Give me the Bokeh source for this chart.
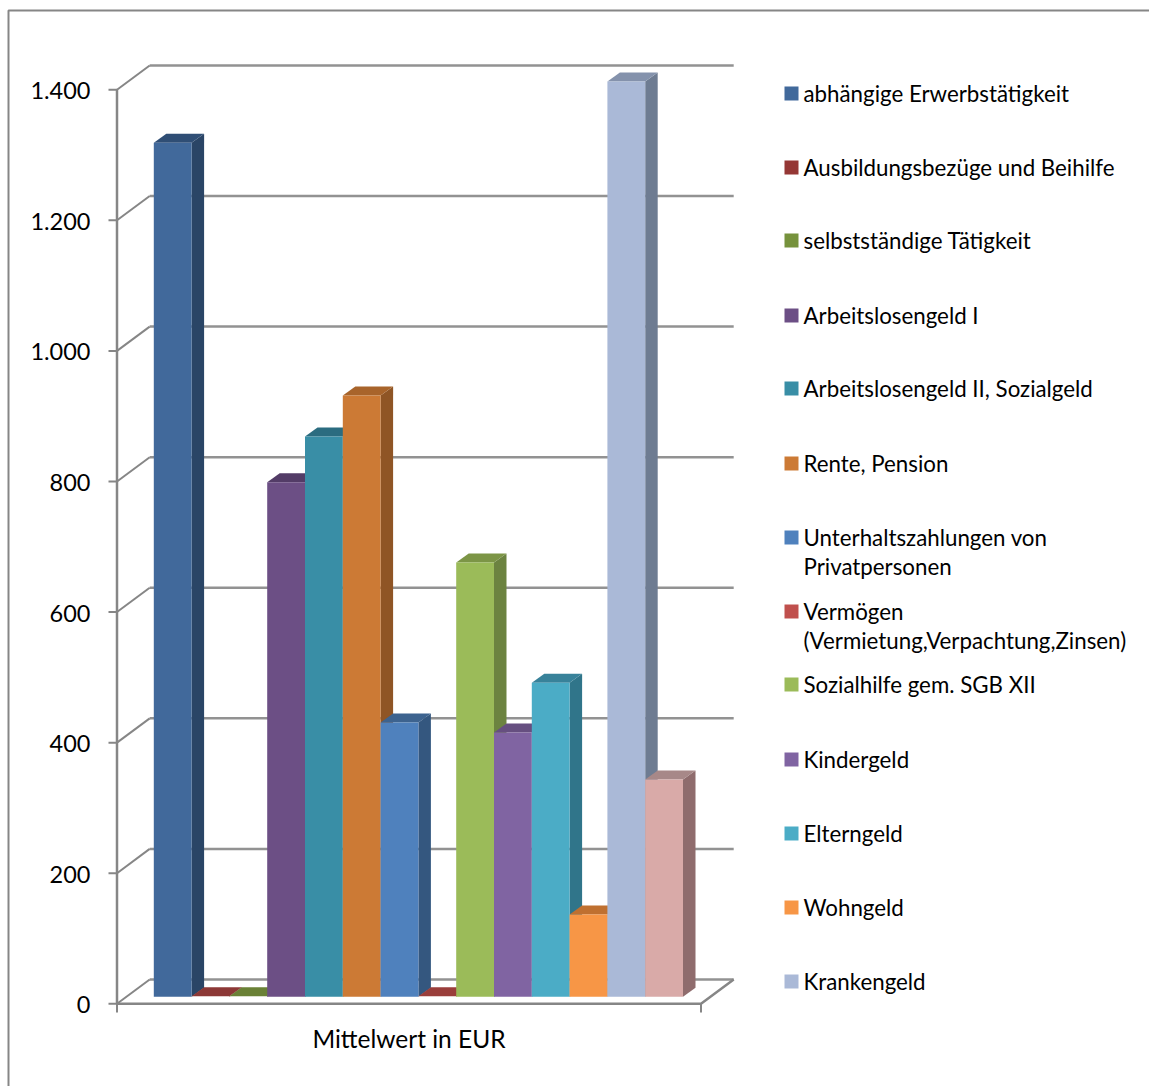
from bokeh.plotting import figure
from bokeh.embed import file_html
from bokeh.resources import INLINE
from bokeh.models import Range1d
from bokeh.core.properties import value

series = ["abhängige Erwerbstätigkeit", "Ausbildungsbezüge und Beihilfe", "selbstständige Tätigkeit",
          "Arbeitslosengeld I", "Arbeitslosengeld II, Sozialgeld", "Rente, Pension",
          "Unterhaltszahlungen von\nPrivatpersonen", "Vermögen\n(Vermietung,Verpachtung,Zinsen)",
          "Sozialhilfe gem. SGB XII", "Kindergeld", "Elterngeld", "Wohngeld", "Krankengeld"]
values = [1308, 1, 1, 788, 858, 921, 420, 1, 665, 405, 481, 126, 1402, 333]
front = ["#41699B", "#953735", "#76923C", "#6C4F85", "#398EA6", "#CC7A35", "#4F81BD", "#C0504D",
         "#9BBB59", "#8064A2", "#4BACC6", "#F79646", "#AAB9D7", "#D9AAA8"]
side = ["#2A4566", "#6F2A28", "#55692C", "#4B3760", "#2A6A7E", "#8F5525", "#34577F", "#8C3A38",
        "#6C8340", "#5A466F", "#30758A", "#B36C31", "#6E7C92", "#8F6C6D"]
top_c = ["#2F4E75", "#8C3836", "#6A8136", "#533C67", "#2B6C80", "#A8642B", "#3D638F", "#9A3E3B",
         "#7C9546", "#664F80", "#38829A", "#BF7030", "#8492AC", "#A78888"]
ticks = [0, 200, 400, 600, 800, 1000, 1200, 1400]
tick_labels = ["0", "200", "400", "600", "800", "1.000", "1.200", "1.400"]
axis_title = "Mittelwert in EUR"

# pixel geometry of the chart box
W, H = 1149, 1086
BAR_W = 37.8
BAR0 = 153.3
Y0 = 1003.3
PPU = 0.6529
def X(px): return (px - BAR0) / BAR_W
def Y(py): return (Y0 - py) / PPU
DX, DY = 12.5 / BAR_W, 9 / PPU              # bar depth
BASE = 7 / PPU                              # bars stand a little behind the front edge
WX0, WX1 = X(116.5), X(700.5)               # floor front edge
BDX, BDY = 32.7 / BAR_W, 24.3 / PPU         # wall depth
GRID = "#868686"
FONT = value("Lato")

p = figure(width=W, height=H, x_range=Range1d(X(0), X(W)), y_range=Range1d(Y(H), Y(0)),
           output_backend="svg", toolbar_location=None, min_border=0)
p.axis.visible = False
p.grid.visible = False
p.outline_line_color = None

# outer frame
p.line([X(8), X(8), X(W)], [Y(H), Y(10), Y(10)], line_color=GRID, line_width=2)

# walls and gridlines
for t in ticks:
    p.line([WX0 + BDX, WX1 + BDX], [t + BDY, t + BDY], line_color=GRID, line_width=2.5, line_alpha=0.9)
    p.line([WX0, WX0 + BDX], [t, t + BDY], line_color=GRID, line_width=2)
    p.line([X(108), WX0], [t, t], line_color=GRID, line_width=2)
p.line([WX0, WX0], [0, ticks[-1]], line_color=GRID, line_width=2.5)
p.line([WX0, WX1, WX1 + BDX], [0, 0, BDY], line_color=GRID, line_width=2.5)
for xx in (WX0, WX1):
    p.line([xx, xx], [0, Y(1012)], line_color=GRID, line_width=2)

# bars
for i, v in enumerate(values):
    b = BASE
    p.patch([i + 1, i + 1 + DX, i + 1 + DX, i + 1], [b, b + DY, b + v + DY, b + v], fill_color=side[i], line_color=None)
    p.patch([i, i + DX, i + 1 + DX, i + 1], [b + v, b + v + DY, b + v + DY, b + v], fill_color=top_c[i], line_color=None)
    if v > 1:
        p.quad(left=i, right=i + 1, bottom=b, top=b + v, fill_color=front[i], line_color=None)

# tick labels and axis title
p.text([X(90)] * len(ticks), [t - 1 / PPU for t in ticks], text=tick_labels, text_font=FONT,
       text_font_size="23.5px", text_align="right", text_baseline="middle", text_color="#000000")
p.text([X(408.5)], [Y(1038)], text=[axis_title], text_font=FONT, text_font_size="24.5px",
       text_align="center", text_baseline="middle", text_color="#000000")

# legend
leg_y = [93, 167, 240, 315, 388, 463, 537, 611, 684, 759, 833, 907, 981]
for i, s in enumerate(series):
    yc = leg_y[i]
    p.quad(left=X(784), right=X(798), bottom=Y(yc + 7), top=Y(yc - 7), fill_color=front[i], line_color=None)
    for j, part in enumerate(s.split("\n")):
        p.text([X(803)], [Y(yc + j * 29)], text=[part], text_font=FONT, text_font_size="22.3px",
               text_align="left", text_baseline="middle", text_color="#000000")

open("out.html", "w").write(file_html(p, INLINE))
